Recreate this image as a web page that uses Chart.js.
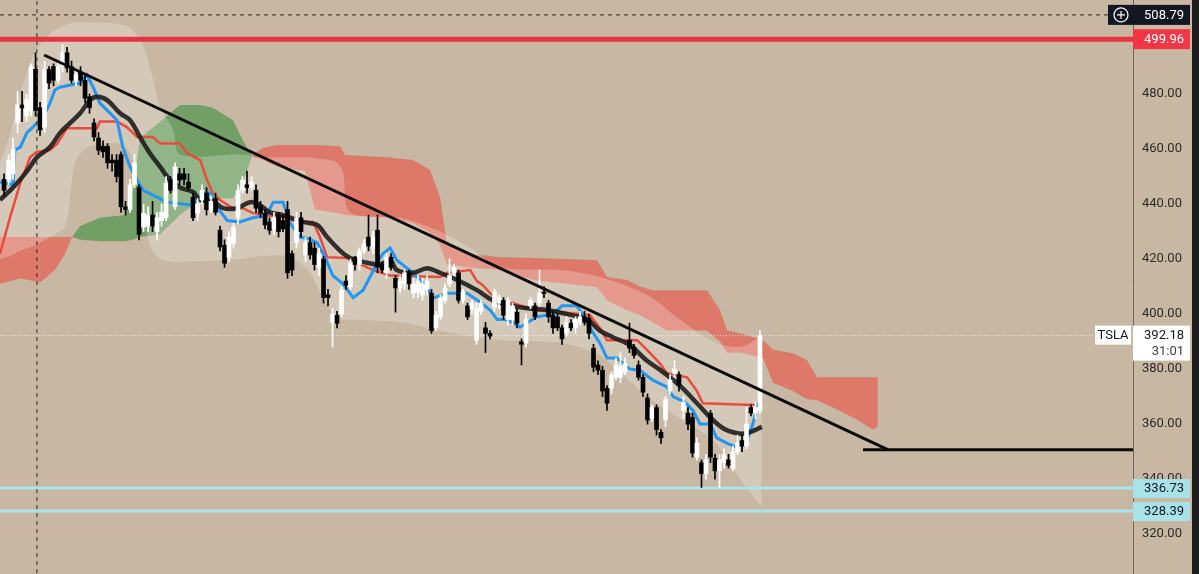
<!DOCTYPE html>
<html>
<head>
<meta charset="utf-8">
<script src="https://cdn.jsdelivr.net/npm/chart.js@4.4.0/dist/chart.umd.min.js"></script>
<style>
  html, body { margin: 0; padding: 0; background: #c8b8a3; overflow: hidden; }
  canvas { display: block; }
</style>
</head>
<body>
<canvas id="myChart" width="1199" height="574"></canvas>
<script>
// price axis
const yTicks = [320, 340, 360, 380, 400, 420, 440, 460, 480];

// hourly candles (index = bar number)
const opens = [449,449,451,469.5,476,472,474,489,475,468,489,490,485,490,495,490,485,488,485,479,
  469.5,464,461,461,456,456,458,439,438,447,446,431.6,432,436,430,434,435,448.7,439,451,
  451,448,442.5,436.7,441.5,444,438,442,430.5,425,420.7,425.8,435,445,447,446,445,439,436.7,433.5,
  431,436,434,438,422,426,435,421.5,426,424,417,420,407,397,399.6,400,412,410,420.7,418,
  423,428,424,430.5,418,415,420.7,413,409.5,411,415,407.6,408,407,409,407.6,395,399,405,411,
  415,415,405,403,402,390.5,401,395,393,402.5,404,405,398,398,400.7,390,389.5,403,403,404,
  408,404,399.6,399,395,393,396.7,395,397,399,398.5,387.6,381.5,379.6,373,373,377,377,379,390.5,
  388,381.5,377,369.5,362,366,357,361.5,372,378.5,378,365,364,362.5,348,346,342,364,347.6,343,
  346,347,344,350,354,352,366,364,365];
const highs = [451,458,464,481,481,480,491,495,477,492,490,491,492,498,497,492,489,490,487,480,
  471,466,463,462,458,458,459,441,449,458,447,440,439,441,437,440,450,450,455,453,
  453,451,444,442,447,446,443,444,432,427,430,433,447,450,452,450,447,441,438,435,
  437,437,436,441,423,437,437,428,428,426,424,421,409,402,401,410,414,420,421,424,
  427,436,430,436,419,422,422,414,414,416,416,413,414,413,414,409,401,407,411,420,
  418,416,409,404,405,404,405,397,394,409,407,406,406,404,402,391,400,406,404,416,
  410,405,401,400,396,399,398,399,401,401,400,389,383,381,374,379,384,386,384,396.7,
  389,383,378,371,367,367,358,370,378,383,379,370,366,364,355,347,349,365,349,349,
  351,349,352,356,356,366,367,368,394];
const lows = [443,447,449,466,470,470,472,472,465,466,482,483,484,488,488,484,483,483,477,473,
  463,458,457,453,452,448,437,436,437,446,427,430,430,430,427,432,434,444,438,447,
  447,445,434,434,440,436,437,436,423,417,419,424,433,444,444,445,437,435,431,429,
  429,428,430,413,414,424,428,419,420,416,414,404,403,388,395,399,409,409,416,416,
  422,423,422,415,415,413,416,400.7,408,409,409,406,406,405,407,393,394,398,404,410,
  414,404,404,398,400,389,400,386,391,401,402,398,396,396,395,381.5,388,402,398,403,
  406,397,393,394,389,392,394,393,396,396,391,379,378,370,365,371,376,375,378,386,
  384,376,370,360,361,356,353,359,371,377,372,362,358,348,347,337,340,346,340,337,
  344,344,343,349,350,351,363,362,364];
const closes = [445,456,460,476,475,478,490,474,467,489,484,485,490,495,489.5,485,487,485,478.5,475,
  464.4,459.6,459,455,455,450,439,438,447,455,429,436.7,436,432,435,437,447.6,445,453.5,448.7,
  449,446,435,440,445,438,441,437,424.4,418.5,428,431.6,445,448.7,446,448,438.5,436.7,432.4,430.5,
  435,430,431,415,416,435,430,426,421.5,418,422,406,406,400,396.7,408.7,410.5,418.5,418,423,
  425.5,424.7,428,417,416,420.7,417,409.5,412,415,411,411,412,411,412,394,399.6,405.8,409.5,414,
  417,405,408,399,404,402,404,393,392,408,406,399.6,405,403,396.7,389,398,405,399,407.6,
  407.5,399,395,395,391,397,395,398,399,397,393,380.7,379.6,372,367.6,378,381.5,381,382,387.6,
  385,377,371.6,361.5,366,358,355,369,376,380,374,368,360,349.5,353,342,347,348,343,347,
  349,345,350,353,352,360,364,366,392.18];

// indicator lines: [bar index, price]
const tenkan = [[-0.9,448],[2,447],[2.4,459.6],[3.6,460.7],[5.1,466],[6.4,468],[8.7,471.6],[10.2,476.7],
  [11.3,481.5],[12.4,482.5],[16.9,484],[18.4,487],[19.8,482.5],[21.3,476.7],[23.6,473],[25.1,470.5],
  [26.4,460.7],[28,453.5],[29.6,448.7],[30.9,445],[34,442.5],[36.2,440.7],[42,439.6],[44.2,444],
  [45.8,444],[47.3,439],[49.6,434],[52.4,433.5],[55.3,435],[58.4,436],[59.8,440.7],[62,440.7],
  [63.6,433],[65.8,428],[67.3,427.6],[69.6,426],[71.3,420.7],[73.1,414],[75.3,411],[77.6,406],
  [79.8,408.7],[82.9,418.5],[84.2,422],[85.8,424],[87.3,419.6],[90.9,415],[94,410],[95.3,405.8],
  [98.4,407.6],[102.9,407.6],[105.8,404.4],[108,401.5],[109.6,398],[111.8,398],[114.7,395.3],
  [118.4,399],[122,400],[124,403],[127.3,403],[128.7,399.6],[130.2,395],[132.4,389.5],[134,384],
  [136.2,384],[137.6,382],[139.1,380],[141.3,379.6],[144.2,376],[147.3,373.5],[148.7,370],
  [151.3,368],[153.1,365],[154.7,360],[156.9,360],[158.4,355],[160.7,353],[162.9,351.6],
  [165.1,354],[166.4,360],[167.6,367.6],[168.4,368.7]];
const kijun = [[-0.9,422],[1.3,435],[3.6,447.6],[5.8,457],[7.3,459],[10.2,459.6],[11.8,462],[14,467.6],
  [20.7,467.6],[21.3,470],[25.1,470],[27.3,468],[29.6,464.4],[33.1,464.4],[34.7,462],[39.1,462],
  [40.7,458.5],[43.6,456],[45.1,448.7],[46.4,444],[48,441.5],[50.9,438.5],[53.1,438.5],[55.3,436.7],
  [58.4,436],[62,435],[65.8,433.5],[68.7,433.5],[70.2,428],[71.8,420.7],[76.2,420.4],[82,416],
  [85.8,414],[96.9,413.5],[98.4,415],[103.6,416],[105.1,412],[106.4,410.5],[108,407.6],[110.2,404.4],
  [113.1,404],[117.6,401.5],[128,400],[130.2,399.6],[132.4,395],[134,390.5],[140.7,390.5],
  [142.9,387],[145.8,382],[147.3,378.5],[151.8,377],[154,372],[155.3,367.6],[164.7,367],[168,367]];
const maLine = [[-0.9,441.5],[2,446],[5.1,452],[7.3,457],[10.2,460.7],[12.4,465.8],[14.7,469.5],
  [16.9,473],[19.1,477.8],[20.7,479],[22.9,477.8],[25.8,473],[28,470.5],[30.2,464.4],[32.4,458.5],
  [34.7,453.5],[36.9,448.7],[39.1,446],[42,444.4],[43.6,441.5],[46.4,441],[48.7,438.5],[51.8,438.5],
  [54.7,440.7],[56.9,439.6],[59.1,437],[62,436],[66.4,433.5],[69.6,432.4],[71.8,428],[74.7,423],
  [76.9,420.4],[79.8,419],[83.6,418],[85.8,419.6],[87.3,416],[90.9,415],[94,416.7],[96.9,415],
  [100.7,412.4],[105.1,408.7],[108.7,405],[113.1,403],[116.9,402],[120.7,401.5],[125.1,400],
  [129.6,398],[132.4,394],[135.3,391.6],[139.1,388.7],[142.9,383],[146.4,379],[150.2,374],
  [154,367.6],[156.9,362.5],[159.8,358.5],[162.9,356.7],[165.1,356.7],[166.9,357.8],[168.4,359]];

// cloud: [bar index, span A, span B]
const cloudPts = [[-0.9,411,428],[3.6,413,428],[8,411.5,428],[11.3,416,428],[13.6,422,428],[15.1,428,428],
  [16.9,432,427],[21.3,435,426.5],[26.9,436,426.5],[28.7,445,427],[30.2,464,428],[34.7,470,429],
  [39.1,476,436],[43.6,476,441.5],[46.4,475,442],[50.9,470.5,442],[53.1,463,448],[55.3,457,458],
  [57.6,456,460.5],[60.7,453.5,461.5],[66.9,452,461.5],[69.1,438,461.5],[74.7,436.5,461],
  [75.8,436,457.8],[85.1,435,457],[90.9,433,456],[94.7,429.5,452.4],[96.9,425,442.5],[98.4,418,425.8],
  [102.9,417,422],[110.2,416,420.7],[117.6,412.4,420.4],[125.1,411,420],[131.8,409.8,419.6],
  [134,405,413.5],[138.4,401.5,412.4],[141.3,399.6,410],[144.2,397,408.7],[147.3,394,408.7],
  [156.2,394,408.7],[159.1,390,401.5],[160.7,386,394],[163.6,386,393],[168.7,384,390.5],
  [170.9,375,387],[175.3,372,385.8],[178.4,369,383.3],[180.7,368.7,377],[184.2,366,377],
  [189.1,362,377],[193.1,358,377],[194.2,359,377]];

// light band: [bar index, upper, lower]
const bandPts = [[-0.9,455,420],[1.3,465,421],[3.6,480,423],[6.9,495,425],[10.2,502,428],[13.6,505,432],
  [15.8,506,455],[19.1,506,461],[26.9,505,461],[30.2,500,445],[32.4,490,425],[34.7,475,420],
  [37.6,467,419],[39.1,458,419],[52.4,458,420],[56.9,457,421],[63.6,457,420.7],[68,457,415],
  [70.2,456.5,408],[73.6,455.5,399],[75.3,452,398],[76.9,437,398],[88,435,397],[96.9,430,394],
  [103.6,424,392],[110.2,417,390.5],[123.6,416,389.5],[132.4,413.5,385],[142.9,407,370],
  [150.2,398,362],[157.6,390,354],[163.6,388,340],[168.4,392,330]];

// drawings
const trendLine = [[8.9,494.2],[196.4,350.7]];
const supportLine = [[190.9,350.7],[251,350.7]];
const crossX = 7.3;
const crossPrice = 508.79;
const redLevel = 499.96;
const cyanLevels = [336.73, 328.39];
const lastPrice = 392.18;
const countdown = '31:01';
const ticker = 'TSLA';

const X_MIN = -0.9, X_MAX = 250.9;

const pts = arr => arr.map(p => ({x: p[0], y: p[1]}));
const hline = (v, x0, x1) => [{x: x0, y: v}, {x: x1, y: v}];
const up = closes.map((c, i) => c >= opens[i]);

const lineDs = (data, color, width, order, extra) => Object.assign({
  type: 'line', data: data, borderColor: color, borderWidth: width,
  pointRadius: 0, fill: false, tension: 0, order: order
}, extra || {});

const bgPlugin = {
  id: 'bg',
  beforeDraw(chart) {
    const c = chart.ctx;
    c.save();
    c.fillStyle = '#c8b8a3';
    c.fillRect(0, 0, chart.width, chart.height);
    c.restore();
  }
};

function box(c, x, y, w, h, bg) {
  c.fillStyle = bg;
  c.fillRect(x, y, w, h);
}

const labelPlugin = {
  id: 'priceLabels',
  afterDraw(chart) {
    const c = chart.ctx;
    const y = chart.scales.y;
    const right = chart.chartArea.right;
    const w = 57;
    c.save();
    c.font = '13px Roboto';
    c.textBaseline = 'middle';
    c.textAlign = 'right';

    // crosshair price
    let py = y.getPixelForValue(crossPrice);
    box(c, right - 25, py - 10, w + 25, 20, '#131722');
    c.strokeStyle = '#ffffff';
    c.lineWidth = 1.2;
    c.beginPath();
    c.arc(right - 12, py, 7, 0, Math.PI * 2);
    c.moveTo(right - 16, py); c.lineTo(right - 8, py);
    c.moveTo(right - 12, py - 4); c.lineTo(right - 12, py + 4);
    c.stroke();
    c.fillStyle = '#ffffff';
    c.fillText(crossPrice.toFixed(2), right + w - 6, py + 1);

    // red level
    py = y.getPixelForValue(redLevel);
    box(c, right, py - 10, w, 20, '#f23645');
    c.fillStyle = '#ffffff';
    c.fillText(redLevel.toFixed(2), right + w - 6, py + 1);

    // last price + countdown
    py = y.getPixelForValue(lastPrice);
    box(c, right, py - 10, w, 35, '#ffffff');
    box(c, right - 38, py - 10, 36, 19, '#ffffff');
    c.fillStyle = '#131722';
    c.fillText(lastPrice.toFixed(2), right + w - 6, py);
    c.fillStyle = '#444444';
    c.fillText(countdown, right + w - 6, py + 16);
    c.fillStyle = '#131722';
    c.textAlign = 'center';
    c.fillText(ticker, right - 20, py);
    c.textAlign = 'right';

    // cyan levels
    cyanLevels.forEach(v => {
      const ly = y.getPixelForValue(v);
      box(c, right, ly - 9, w, 19, '#a9e3ea');
      c.fillStyle = '#131722';
      c.fillText(v.toFixed(2), right + w - 6, ly + 1);
    });

    // dark side strip
    box(c, right + 59, 0, chart.width - right - 59, chart.height, '#1d1d1d');
    c.restore();
  }
};

const datasets = [
  // cloud
  lineDs(pts(cloudPts.map(p => [p[0], p[1]])), 'rgba(0,0,0,0)', 0, 100, {
    fill: {target: '+1', above: 'rgba(56,142,60,0.6)', below: 'rgba(240,70,60,0.55)'}
  }),
  lineDs(pts(cloudPts.map(p => [p[0], p[2]])), 'rgba(0,0,0,0)', 0, 99),
  // light band
  lineDs(pts(bandPts.map(p => [p[0], p[1]])), 'rgba(0,0,0,0)', 0, 90, {
    fill: {target: '+1'}, backgroundColor: 'rgba(255,255,255,0.23)', tension: 0.3
  }),
  lineDs(pts(bandPts.map(p => [p[0], p[2]])), 'rgba(0,0,0,0)', 0, 89, {tension: 0.3}),
  // horizontal levels
  lineDs(hline(redLevel, X_MIN, X_MAX), '#e8343f', 5, 80),
  lineDs(hline(cyanLevels[0], X_MIN, X_MAX), '#a9e3ea', 3, 80),
  lineDs(hline(cyanLevels[1], X_MIN, X_MAX), '#a9e3ea', 3, 80),
  lineDs(hline(lastPrice, X_MIN, X_MAX), 'rgba(255,255,255,0.75)', 1, 80, {borderDash: [1, 2]}),
  lineDs(hline(crossPrice, X_MIN, X_MAX - 5.6), '#2a2a2a', 1, 2, {borderDash: [4, 4]}),
  lineDs([{x: crossX, y: 300}, {x: crossX, y: 520}], '#2a2a2a', 1, 2, {borderDash: [4, 4]}),
  // indicators
  lineDs(pts(kijun), '#ea4b3c', 2.5, 32),
  lineDs(pts(tenkan), '#2196f3', 3, 31),
  lineDs(pts(maLine), 'rgba(25,25,25,0.88)', 4.5, 30, {tension: 0.35}),
  // candles
  {
    type: 'bar', grouped: false, order: 21, barThickness: 1,
    data: lows.map((l, i) => ({x: i, y: [l, highs[i]]})),
    backgroundColor: up.map(u => u ? '#ffffff' : '#000000'), borderWidth: 0
  },
  {
    type: 'bar', grouped: false, order: 20, barThickness: 4, minBarLength: 1,
    data: opens.map((o, i) => ({x: i, y: [o, closes[i]]})),
    backgroundColor: up.map(u => u ? '#ffffff' : '#000000'), borderWidth: 0
  },
  // trend drawings
  lineDs(pts(trendLine), '#0a0a0a', 3, 1),
  lineDs(pts(supportLine), '#0a0a0a', 3, 1)
];

new Chart(document.getElementById('myChart'), {
  type: 'bar',
  data: { datasets: datasets },
  options: {
    responsive: false,
    animation: false,
    layout: { padding: 0 },
    plugins: { legend: { display: false }, tooltip: { enabled: false } },
    scales: {
      x: { type: 'linear', min: X_MIN, max: X_MAX, display: false, offset: false },
      y: {
        position: 'right', min: 305.5, max: 514.2,
        grid: { display: false, drawTicks: false },
        border: { display: true, color: '#6e655a', width: 1 },
        ticks: {
          padding: 9, color: '#2b2b2b',
          font: { family: 'Roboto', size: 13 },
          callback: v => Number(v).toFixed(2)
        },
        afterBuildTicks: axis => { axis.ticks = yTicks.map(v => ({ value: v })); },
        afterFit: axis => { axis.width = 66; axis.paddingTop = 0; axis.paddingBottom = 0; }
      }
    }
  },
  plugins: [bgPlugin, labelPlugin]
});
</script>
</body>
</html>
